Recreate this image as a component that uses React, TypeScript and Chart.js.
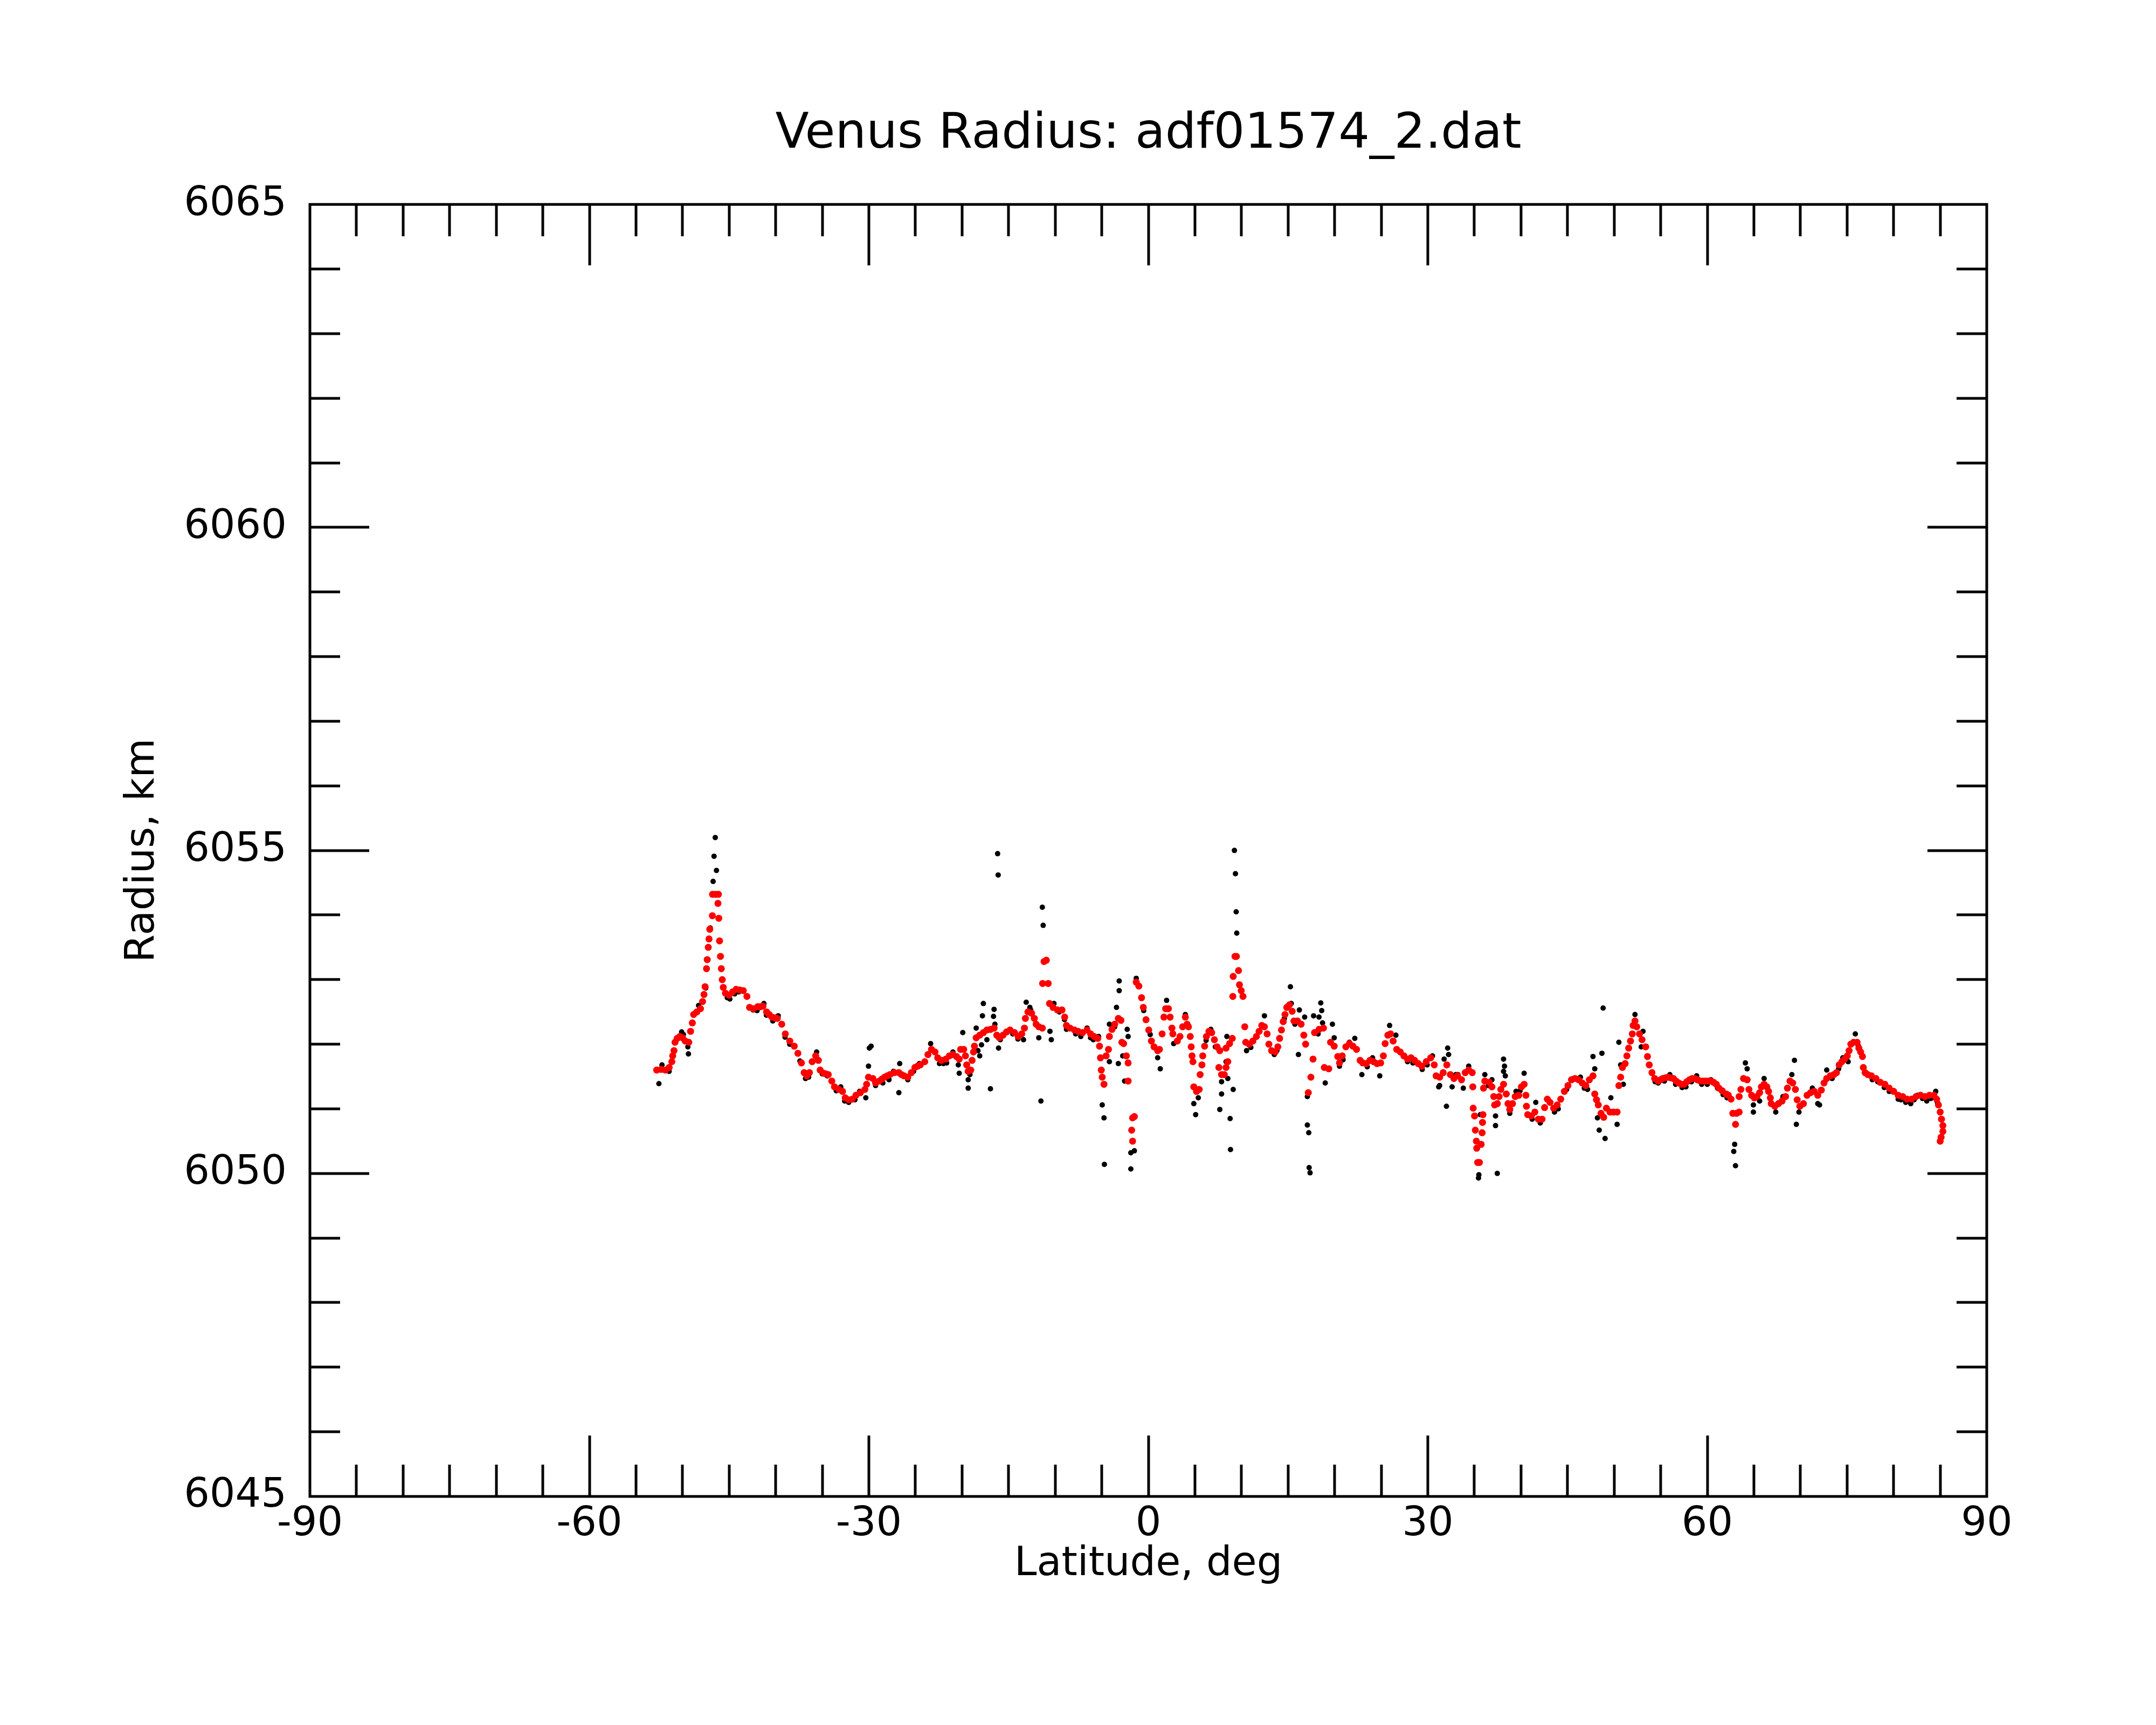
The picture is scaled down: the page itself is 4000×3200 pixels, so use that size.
import { useEffect, useRef } from "react";
import { Chart, registerables } from "chart.js";

Chart.register(...registerables);

// smoothed profile (red)
const redLat = [
  -52.78, -52.30, -51.83, -51.44, -51.15, -51.06, -50.92, -50.81, -50.58, -50.29,
  -50.00, -49.71, -49.33, -49.14, -48.95, -48.81, -48.47, -48.08, -47.85, -47.70,
  -47.58, -47.43, -47.35, -47.24, -47.16, -47.08, -46.80, -46.78, -46.45, -46.15,
  -46.20, -46.11, -46.03, -45.93, -45.84, -45.74, -45.63, -45.40, -45.01, -44.63,
  -44.25, -43.86, -43.48, -43.09, -42.81, -42.42, -41.94, -41.65, -41.37, -40.98,
  -40.70, -40.41, -40.12, -39.83, -39.35, -38.97, -38.49, -38.01, -37.62, -37.24,
  -36.95, -36.66, -36.38, -36.09, -35.71, -35.42, -35.23, -34.84, -34.60, -34.36,
  -33.98, -33.69, -33.21, -32.83, -32.54, -32.16, -31.77, -31.39, -30.91, -30.43,
  -30.24, -30.04, -29.57, -29.28, -28.89, -28.60, -28.32, -28.03, -27.74, -27.26,
  -26.78, -26.50, -26.21, -25.82, -25.44, -25.06, -24.77, -24.48, -24.00, -23.66,
  -23.28, -22.90, -22.61, -22.22, -21.74, -21.36, -20.98, -20.59, -20.30, -20.15,
  -19.82, -19.63, -19.50, -19.34, -19.06, -18.92, -18.77, -18.67, -18.48, -18.10,
  -17.71, -17.33, -16.95, -16.56, -16.27, -15.99, -15.60, -15.22, -14.84, -14.36,
  -13.97, -13.59, -13.30, -13.20, -12.92, -12.53, -12.24, -12.05, -11.76, -11.38,
  -11.35, -11.20, -10.95, -10.75, -10.61, -10.23, -9.75, -9.27, -8.98, -8.79,
  -8.41, -7.93, -7.54, -7.06, -6.58, -6.20, -5.82, -5.43, -5.24, -5.14,
  -5.05, -4.95, -4.76, -4.53, -4.28, -4.18, -3.90, -3.61, -3.22, -2.94,
  -2.84, -2.65, -2.36, -2.17, -2.17, -1.69, -1.50, -1.79, -1.69, -1.30,
  -1.02, -0.73, -0.54, -0.25, 0.04, 0.33, 0.61, 1.00, 1.19, 1.48,
  1.67, 1.86, 2.15, 2.34, 2.53, 2.63, 3.11, 3.40, 3.68, 3.97,
  4.16, 4.31, 4.50, 4.60, 4.69, 4.79, 4.88, 5.17, 5.46, 5.56,
  5.75, 5.84, 6.04, 6.23, 6.51, 6.80, 7.09, 7.38, 7.67, 7.57,
  7.86, 8.15, 8.34, 8.53, 8.34, 8.72, 9.01, 9.07, 9.11, 9.30,
  9.45, 9.68, 9.78, 9.97, 10.16, 10.35, 10.45, 10.83, 11.22, 11.60,
  11.89, 12.18, 12.46, 12.75, 12.94, 13.23, 13.62, 13.90, 14.09, 14.29,
  14.48, 14.67, 14.86, 15.15, 15.44, 15.63, 16.01, 16.40, 16.69, 16.88,
  17.17, 17.45, 17.68, 17.84, 18.32, 18.80, 18.89, 19.37, 19.56, 19.95,
  20.33, 20.52, 20.81, 21.20, 21.58, 21.96, 22.35, 22.73, 23.02, 23.40,
  23.79, 24.17, 24.55, 24.94, 25.23, 25.42, 25.71, 26.00, 26.28, 26.66,
  27.05, 27.43, 27.82, 28.20, 28.58, 28.97, 29.35, 29.83, 30.31, 30.69,
  30.89, 31.27, 31.65, 32.04, 32.42, 32.80, 33.19, 33.62, 34.01, 34.39,
  34.77, 34.83, 34.87, 35.02, 35.10, 35.21, 35.25, 35.35, 35.54, 35.73,
  35.83, 35.87, 35.92, 35.98, 36.12, 36.60, 36.88, 37.08, 37.17, 37.46,
  37.65, 37.84, 38.13, 38.42, 38.61, 38.80, 39.09, 39.38, 39.76, 40.05,
  40.34, 40.53, 40.59, 40.72, 41.11, 41.49, 41.87, 42.26, 42.54, 42.83,
  43.12, 43.50, 43.89, 44.27, 44.66, 45.04, 45.42, 45.81, 46.19, 46.57,
  46.96, 47.34, 47.73, 47.92, 48.11, 48.30, 48.59, 48.88, 49.17, 49.55,
  49.93, 50.32, 50.51, 50.70, 50.89, 51.18, 51.37, 51.56, 51.76, 51.95,
  52.04, 52.24, 52.43, 52.72, 53.00, 53.39, 53.58, 53.77, 54.06, 54.35,
  54.73, 54.97, 55.21, 55.50, 55.79, 56.08, 56.36, 56.65, 56.94, 57.22,
  57.51, 57.80, 58.09, 58.38, 58.66, 58.95, 59.24, 59.53, 59.82, 60.10,
  60.39, 60.68, 60.97, 61.25, 61.60, 62.02, 62.26, 62.55, 62.74, 63.03,
  63.13, 63.42, 63.42, 63.61, 63.89, 64.28, 64.47, 64.76, 65.05, 65.33,
  65.62, 65.81, 66.10, 66.39, 66.58, 66.77, 66.87, 67.25, 67.64, 68.02,
  68.40, 68.60, 68.88, 69.17, 69.46, 69.65, 69.94, 70.32, 70.71, 71.09,
  71.48, 71.86, 72.24, 72.53, 72.82, 73.20, 73.59, 73.87, 74.16, 74.45,
  74.74, 75.03, 75.22, 75.41, 75.70, 76.08, 76.27, 76.46, 76.66, 76.75,
  76.94, 77.23, 77.62, 78.10, 78.58, 79.06, 79.53, 80.01, 80.49, 80.97,
  81.45, 81.93, 82.41, 82.89, 83.37, 83.85, 84.33, 84.62, 84.81, 85.00,
  85.14, 85.29, 85.29, 85.10, 85.00,
];

const redRadius = [
  6051.60, 6051.61, 6051.60, 6051.64, 6051.73, 6051.82, 6051.90, 6052.03, 6052.09, 6052.12,
  6052.10, 6052.05, 6052.03, 6052.20, 6052.33, 6052.46, 6052.50, 6052.55, 6052.66, 6052.77,
  6052.89, 6053.17, 6053.31, 6053.50, 6053.63, 6053.78, 6053.99, 6054.32, 6054.32, 6054.32,
  6054.18, 6053.95, 6053.60, 6053.36, 6053.17, 6053.00, 6052.88, 6052.79, 6052.76, 6052.81,
  6052.85, 6052.84, 6052.83, 6052.74, 6052.57, 6052.55, 6052.58, 6052.58, 6052.59, 6052.50,
  6052.46, 6052.42, 6052.41, 6052.40, 6052.31, 6052.16, 6052.05, 6051.97, 6051.86, 6051.71,
  6051.56, 6051.51, 6051.56, 6051.73, 6051.82, 6051.75, 6051.60, 6051.55, 6051.54, 6051.53,
  6051.43, 6051.34, 6051.30, 6051.27, 6051.17, 6051.14, 6051.15, 6051.21, 6051.25, 6051.30,
  6051.38, 6051.49, 6051.47, 6051.40, 6051.43, 6051.46, 6051.49, 6051.51, 6051.53, 6051.56,
  6051.56, 6051.53, 6051.51, 6051.49, 6051.56, 6051.64, 6051.66, 6051.68, 6051.73, 6051.84,
  6051.92, 6051.88, 6051.79, 6051.75, 6051.77, 6051.82, 6051.84, 6051.81, 6051.77, 6051.92,
  6051.92, 6051.82, 6051.68, 6051.58, 6051.60, 6051.75, 6051.88, 6051.97, 6052.10, 6052.14,
  6052.18, 6052.22, 6052.23, 6052.25, 6052.14, 6052.10, 6052.14, 6052.19, 6052.22, 6052.18,
  6052.12, 6052.16, 6052.25, 6052.40, 6052.50, 6052.48, 6052.40, 6052.31, 6052.27, 6052.25,
  6052.94, 6053.28, 6053.30, 6052.94, 6052.63, 6052.57, 6052.53, 6052.53, 6052.42, 6052.29,
  6052.25, 6052.22, 6052.20, 6052.18, 6052.22, 6052.16, 6052.12, 6052.09, 6051.97, 6051.79,
  6051.60, 6051.49, 6051.38, 6051.82, 6051.92, 6052.12, 6052.23, 6052.31, 6052.40, 6052.37,
  6052.03, 6052.01, 6051.82, 6051.71, 6051.43, 6050.86, 6050.88, 6050.67, 6050.50, 6052.96,
  6052.90, 6052.72, 6052.57, 6052.38, 6052.22, 6052.05, 6051.96, 6051.90, 6051.92, 6052.16,
  6052.42, 6052.55, 6052.55, 6052.42, 6052.25, 6052.16, 6052.05, 6052.12, 6052.27, 6052.42,
  6052.31, 6052.27, 6052.12, 6051.96, 6051.82, 6051.73, 6051.34, 6051.27, 6051.30, 6051.53,
  6051.68, 6051.82, 6051.97, 6052.12, 6052.20, 6052.18, 6052.07, 6051.96, 6051.90, 6051.64,
  6051.53, 6051.53, 6051.64, 6051.73, 6051.94, 6052.01, 6052.09, 6052.74, 6053.05, 6053.36,
  6053.36, 6053.14, 6052.92, 6052.83, 6052.74, 6052.27, 6052.03, 6052.00, 6052.05, 6052.12,
  6052.20, 6052.29, 6052.27, 6052.16, 6052.00, 6051.90, 6051.88, 6051.96, 6052.09, 6052.22,
  6052.35, 6052.46, 6052.57, 6052.61, 6052.51, 6052.36, 6052.36, 6052.31, 6052.14, 6052.00,
  6051.25, 6051.49, 6051.77, 6052.18, 6052.23, 6052.25, 6051.64, 6051.62, 6052.03, 6051.97,
  6051.81, 6051.71, 6051.82, 6051.96, 6052.01, 6051.97, 6051.92, 6051.75, 6051.71, 6051.70,
  6051.75, 6051.73, 6051.70, 6051.71, 6051.82, 6052.01, 6052.14, 6052.16, 6052.05, 6051.92,
  6051.88, 6051.82, 6051.77, 6051.79, 6051.75, 6051.70, 6051.66, 6051.73, 6051.79, 6051.68,
  6051.51, 6051.49, 6051.56, 6051.68, 6051.53, 6051.47, 6051.51, 6051.45, 6051.56, 6051.60,
  6051.56, 6051.34, 6051.01, 6050.89, 6050.67, 6050.50, 6050.39, 6050.17, 6050.17, 6050.45,
  6050.63, 6050.79, 6050.91, 6051.32, 6051.43, 6051.41, 6051.34, 6051.19, 6051.06, 6051.08,
  6051.19, 6051.30, 6051.38, 6051.23, 6051.08, 6050.99, 6051.08, 6051.19, 6051.21, 6051.34,
  6051.38, 6051.21, 6051.04, 6050.91, 6050.89, 6050.95, 6050.84, 6050.84, 6051.02, 6051.15,
  6051.10, 6051.01, 6051.06, 6051.15, 6051.27, 6051.36, 6051.45, 6051.47, 6051.45, 6051.40,
  6051.36, 6051.45, 6051.51, 6051.23, 6051.14, 6051.06, 6050.93, 6050.87, 6051.01, 6050.95,
  6050.95, 6050.95, 6051.36, 6051.49, 6051.64, 6051.70, 6051.82, 6051.94, 6052.05, 6052.16,
  6052.29, 6052.36, 6052.27, 6052.16, 6052.07, 6051.96, 6051.81, 6051.68, 6051.56, 6051.47,
  6051.43, 6051.45, 6051.47, 6051.48, 6051.49, 6051.48, 6051.47, 6051.43, 6051.40, 6051.38,
  6051.38, 6051.42, 6051.45, 6051.47, 6051.47, 6051.45, 6051.43, 6051.43, 6051.43, 6051.43,
  6051.43, 6051.41, 6051.38, 6051.32, 6051.28, 6051.23, 6051.21, 6051.15, 6050.93, 6050.76,
  6050.93, 6050.95, 6051.19, 6051.30, 6051.47, 6051.45, 6051.30, 6051.21, 6051.17, 6051.19,
  6051.25, 6051.34, 6051.38, 6051.34, 6051.27, 6051.17, 6051.08, 6051.04, 6051.08, 6051.12,
  6051.19, 6051.32, 6051.43, 6051.40, 6051.30, 6051.14, 6051.04, 6051.08, 6051.21, 6051.25,
  6051.27, 6051.21, 6051.29, 6051.40, 6051.47, 6051.51, 6051.53, 6051.56, 6051.68, 6051.73,
  6051.77, 6051.82, 6051.90, 6052.00, 6052.03, 6052.03, 6051.94, 6051.88, 6051.81, 6051.64,
  6051.56, 6051.53, 6051.51, 6051.47, 6051.41, 6051.38, 6051.32, 6051.27, 6051.21, 6051.19,
  6051.15, 6051.15, 6051.19, 6051.21, 6051.19, 6051.21, 6051.21, 6051.15, 6051.06, 6050.95,
  6050.84, 6050.74, 6050.65, 6050.56, 6050.50,
];

// raw measurements (black)
const blackLat = [
  -52.54, -52.21, -51.44, -50.10, -49.91, -49.43, -49.37, -48.28, -47.51, -47.03,
  -46.72, -46.36, -46.62, -46.49, -44.92, -43.96, -43.48, -42.42, -41.27, -40.31,
  -39.73, -38.01, -36.47, -35.61, -34.46, -33.02, -32.16, -31.00, -30.33, -30.04,
  -29.95, -29.76, -29.28, -27.84, -27.36, -26.69, -26.78, -26.59, -25.82, -24.58,
  -23.37, -22.42, -21.65, -20.98, -20.40, -20.30, -19.92, -19.34, -19.34, -19.15,
  -18.48, -18.29, -18.10, -17.91, -17.81, -17.71, -17.33, -16.95, -16.62, -16.56,
  -16.47, -16.18, -16.12, -16.08, -15.89, -14.55, -13.40, -13.11, -12.72, -12.63,
  -11.76, -11.53, -11.38, -11.29, -10.94, -10.56, -10.42, -10.13, -9.56, -8.79,
  -7.25, -6.58, -5.91, -5.34, -4.95, -4.76, -4.72, -4.18, -4.18, -3.61,
  -3.42, -3.22, -3.13, -3.13, -2.75, -2.55, -2.27, -2.17, -1.88, -1.88,
  -1.50, -1.30, 1.00, 1.28, 1.96, 2.72, 3.97, 4.88, 5.08, 5.36,
  6.71, 7.19, 7.67, 7.86, 7.86, 8.34, 8.43, 8.53, 8.78, 8.82,
  9.11, 9.24, 9.35, 9.43, 9.49, 9.97, 10.54, 12.46, 13.52, 15.25,
  15.34, 15.73, 16.11, 16.21, 16.78, 17.07, 17.07, 17.22, 17.26, 17.36,
  17.74, 18.22, 18.32, 18.51, 18.61, 18.70, 18.99, 19.76, 19.95, 20.52,
  21.58, 22.16, 22.92, 24.07, 24.84, 25.90, 26.57, 27.82, 29.93, 30.50,
  31.17, 31.27, 31.75, 32.00, 32.13, 32.23, 32.61, 33.00, 33.24, 33.81,
  34.39, 35.44, 35.48, 35.64, 36.12, 36.88, 37.27, 37.27, 37.46, 38.13,
  38.23, 38.13, 38.32, 38.80, 39.47, 40.34, 41.20, 41.59, 42.07, 43.60,
  45.62, 46.38, 47.15, 47.73, 47.92, 48.21, 48.40, 48.69, 48.82, 49.03,
  49.65, 50.32, 50.51, 50.70, 50.99, 52.24, 52.91, 53.10, 54.73, 55.98,
  57.71, 58.86, 60.39, 62.12, 62.17, 62.84, 62.94, 63.03, 64.09, 64.28,
  64.95, 64.95, 65.62, 66.10, 67.35, 68.12, 69.08, 69.36, 69.56, 69.84,
  71.28, 71.86, 72.05, 72.82, 74.55, 75.12, 75.89, 77.71, 79.53, 80.49,
  81.84, 82.60, 83.56, 84.52, -45.20, -44.40, -42.00, -41.00, -39.00, -38.50,
  -37.40, -36.80, -35.00, -33.50, -32.60, -31.50, -28.50, -25.20, -22.00, -14.00,
  -9.00, -7.80, -6.20, -0.50, 0.20, 6.20, 11.00, 13.80, 14.60, 20.90,
  23.50, 28.40, 29.40, 36.50, 39.90, 44.00, 44.90, 46.80, 54.40, 55.40,
  56.60, 57.30, 58.30, 59.40, 60.00, 61.10, 61.70, 73.40, 74.10, 76.20,
  78.30, 79.00, 80.80, 81.30, 82.20, 83.10, 84.00, 84.70,
];

const blackRadius = [
  6051.39, 6051.68, 6051.58, 6052.19, 6052.15, 6051.96, 6051.85, 6052.60, 6052.87, 6053.80,
  6054.52, 6054.69, 6054.91, 6055.20, 6052.70, 6052.81, 6052.83, 6052.53, 6052.63, 6052.36,
  6052.44, 6051.96, 6051.49, 6051.88, 6051.51, 6051.34, 6051.10, 6051.27, 6051.17, 6051.66,
  6051.94, 6051.97, 6051.36, 6051.45, 6051.58, 6051.70, 6051.25, 6051.53, 6051.45, 6051.70,
  6052.01, 6051.70, 6051.71, 6051.88, 6051.68, 6051.55, 6052.18, 6051.45, 6051.32, 6051.53,
  6052.25, 6051.90, 6051.82, 6051.99, 6052.44, 6052.63, 6052.07, 6051.31, 6052.43, 6052.54,
  6052.31, 6054.95, 6054.62, 6051.94, 6052.07, 6052.16, 6052.07, 6052.65, 6052.57, 6052.53,
  6052.10, 6051.12, 6054.12, 6053.84, 6053.31, 6052.20, 6052.07, 6052.63, 6052.50, 6052.23,
  6052.12, 6052.25, 6052.07, 6052.12, 6051.06, 6050.86, 6050.14, 6052.31, 6051.73, 6052.27,
  6052.57, 6051.70, 6052.98, 6052.83, 6051.82, 6051.43, 6052.23, 6052.12, 6050.32, 6050.07,
  6050.35, 6053.02, 6051.79, 6051.62, 6052.68, 6052.01, 6052.46, 6051.08, 6050.91, 6051.17,
  6052.23, 6051.96, 6050.99, 6051.42, 6051.23, 6051.73, 6052.12, 6051.47, 6050.85, 6050.37,
  6051.30, 6055.00, 6054.64, 6054.05, 6053.72, 6052.83, 6051.90, 6052.44, 6051.84, 6052.89,
  6052.63, 6052.31, 6051.84, 6052.53, 6052.42, 6051.19, 6050.75, 6050.63, 6050.09, 6050.01,
  6052.44, 6052.16, 6052.42, 6052.64, 6052.52, 6052.33, 6051.40, 6052.31, 6052.10, 6051.66,
  6052.03, 6052.09, 6051.53, 6051.79, 6051.51, 6052.29, 6052.14, 6051.73, 6051.68, 6051.82,
  6051.34, 6051.36, 6051.77, 6051.04, 6051.94, 6051.84, 6051.34, 6051.53, 6051.53, 6051.32,
  6051.66, 6049.93, 6049.98, 6050.91, 6051.53, 6051.45, 6050.74, 6050.89, 6050.00, 6051.77,
  6051.66, 6051.58, 6051.51, 6050.93, 6051.27, 6051.55, 6050.84, 6051.10, 6050.78, 6050.95,
  6051.47, 6051.49, 6051.30, 6051.81, 6051.62, 6050.86, 6050.67, 6051.86, 6052.56, 6050.54,
  6051.17, 6050.76, 6052.03, 6051.68, 6051.38, 6052.46, 6051.96, 6052.20, 6051.40, 6051.53,
  6051.34, 6051.51, 6051.45, 6051.17, 6051.23, 6050.34, 6050.45, 6050.12, 6051.71, 6051.62,
  6050.95, 6051.06, 6051.12, 6051.47, 6050.95, 6051.19, 6051.53, 6051.75, 6050.76, 6050.95,
  6051.32, 6051.08, 6051.06, 6051.60, 6051.79, 6051.73, 6052.16, 6051.45, 6051.27, 6051.15,
  6051.08, 6051.21, 6051.12, 6051.27, 6052.72, 6052.78, 6052.52, 6052.45, 6052.11, 6052.00,
  6051.74, 6051.47, 6051.54, 6051.28, 6051.12, 6051.14, 6051.40, 6051.58, 6051.70, 6052.08,
  6052.38, 6052.16, 6052.10, 6052.52, 6052.15, 6052.06, 6051.95, 6051.90, 6052.40, 6051.76,
  6051.65, 6051.71, 6051.61, 6051.36, 6051.28, 6051.00, 6051.30, 6051.32, 6051.42, 6051.43,
  6051.38, 6051.33, 6051.42, 6051.38, 6051.38, 6051.32, 6051.22, 6051.47, 6051.62, 6051.98,
  6051.42, 6051.33, 6051.14, 6051.10, 6051.14, 6051.16, 6051.16, 6051.10,
];

// axis ticks
const xMajorTicks = [-90, -60, -30, 0, 30, 60, 90];
const yMajorTicks = [6045, 6050, 6055, 6060, 6065];
const xMinorStep = 5;
const yMinorStep = 1;

const FONT = "'DejaVu Sans', 'Liberation Sans', sans-serif";

const boxTicks = {
  id: "boxTicks",
  afterDatasetsDraw(chart: any) {
    const { ctx, chartArea, scales } = chart;
    const { left, right, top, bottom } = chartArea;
    const xs = scales.x;
    const ys = scales.y;
    ctx.save();
    ctx.strokeStyle = "#000";
    ctx.lineWidth = 5;
    ctx.lineCap = "butt";
    ctx.beginPath();
    for (let v = xs.min + xMinorStep; v < xs.max; v += xMinorStep) {
      const px = Math.round(xs.getPixelForValue(v));
      const len = xMajorTicks.includes(v) ? 113 : 59;
      ctx.moveTo(px, bottom);
      ctx.lineTo(px, bottom - len);
      ctx.moveTo(px, top);
      ctx.lineTo(px, top + len);
    }
    for (let v = ys.min + yMinorStep; v < ys.max; v += yMinorStep) {
      const py = Math.round(ys.getPixelForValue(v));
      const len = yMajorTicks.includes(v) ? 110 : 56;
      ctx.moveTo(left, py);
      ctx.lineTo(left + len, py);
      ctx.moveTo(right, py);
      ctx.lineTo(right - len, py);
    }
    ctx.stroke();
    ctx.strokeRect(left, top, right - left, bottom - top);
    ctx.restore();
  },
};

const VenusRadiusChart = () => {
  const canvasRef = useRef<HTMLCanvasElement | null>(null);
  const chartInstance = useRef<Chart | null>(null);

  useEffect(() => {
    if (chartInstance.current !== null) {
      chartInstance.current.destroy();
    }
    if (canvasRef.current === null) return;

    const redPoints = redLat.map((x, i) => ({ x, y: redRadius[i] }));
    const blackPoints = blackLat.map((x, i) => ({ x, y: blackRadius[i] }));

    chartInstance.current = new Chart(canvasRef.current, {
      type: "scatter",
      data: {
        datasets: [
          {
            label: "Smoothed",
            data: redPoints,
            backgroundColor: "#ff0000",
            pointBackgroundColor: "#ff0000",
            pointBorderWidth: 0,
            pointRadius: 6.5,
            order: 0,
          },
          {
            label: "Raw",
            data: blackPoints,
            backgroundColor: "#000000",
            pointBackgroundColor: "#000000",
            pointBorderWidth: 0,
            pointRadius: 5,
            order: 1,
          },
        ],
      },
      options: {
        responsive: false,
        devicePixelRatio: 1,
        animation: false,
        events: [],
        layout: { padding: { left: 0, top: 0, right: 314, bottom: 0 } },
        plugins: {
          legend: { display: false },
          tooltip: { enabled: false },
          title: {
            display: true,
            fullSize: false,
            text: "Venus Radius: adf01574_2.dat",
            color: "#000",
            font: { family: FONT, size: 91, weight: "normal", lineHeight: 1.2 },
            padding: { top: 196, bottom: 74 },
          },
        },
        scales: {
          x: {
            type: "linear",
            position: "bottom",
            min: -90,
            max: 90,
            afterBuildTicks: (scale: any) => {
              scale.ticks = xMajorTicks.map((value) => ({ value }));
            },
            afterFit: (scale: any) => {
              scale.height = 424;
            },
            grid: { display: false, drawTicks: false },
            border: { display: false },
            ticks: {
              color: "#000",
              font: { family: FONT, size: 75, lineHeight: 1.2 },
              padding: 8,
              maxRotation: 0,
              autoSkip: false,
              callback: (v: any) => String(v),
            },
            title: {
              display: true,
              text: "Latitude, deg",
              color: "#000",
              font: { family: FONT, size: 75, lineHeight: 1.2 },
              padding: { top: 0, bottom: 252 },
            },
          },
          y: {
            type: "linear",
            position: "left",
            min: 6045,
            max: 6065,
            afterBuildTicks: (scale: any) => {
              scale.ticks = yMajorTicks.map((value) => ({ value }));
            },
            afterFit: (scale: any) => {
              scale.width = 575;
            },
            grid: { display: false, drawTicks: false },
            border: { display: false },
            ticks: {
              color: "#000",
              font: { family: FONT, size: 75, lineHeight: 1.2 },
              padding: 43,
              autoSkip: false,
              callback: (v: any) => String(v),
            },
            title: {
              display: true,
              text: "Radius, km",
              color: "#000",
              font: { family: FONT, size: 75, lineHeight: 1.2 },
              padding: { top: 221, bottom: 0 },
            },
          },
        },
      },
      plugins: [boxTicks],
    });

    return () => {
      if (chartInstance.current !== null) {
        chartInstance.current.destroy();
        chartInstance.current = null;
      }
    };
  }, []);

  return (
    <div style={{ position: "fixed", left: 0, top: 0, width: 4000, height: 3200, background: "#fff" }}>
      <canvas ref={canvasRef} width={4000} height={3200} style={{ display: "block" }} />
    </div>
  );
};

export default function App() {
  return <VenusRadiusChart />;
}
